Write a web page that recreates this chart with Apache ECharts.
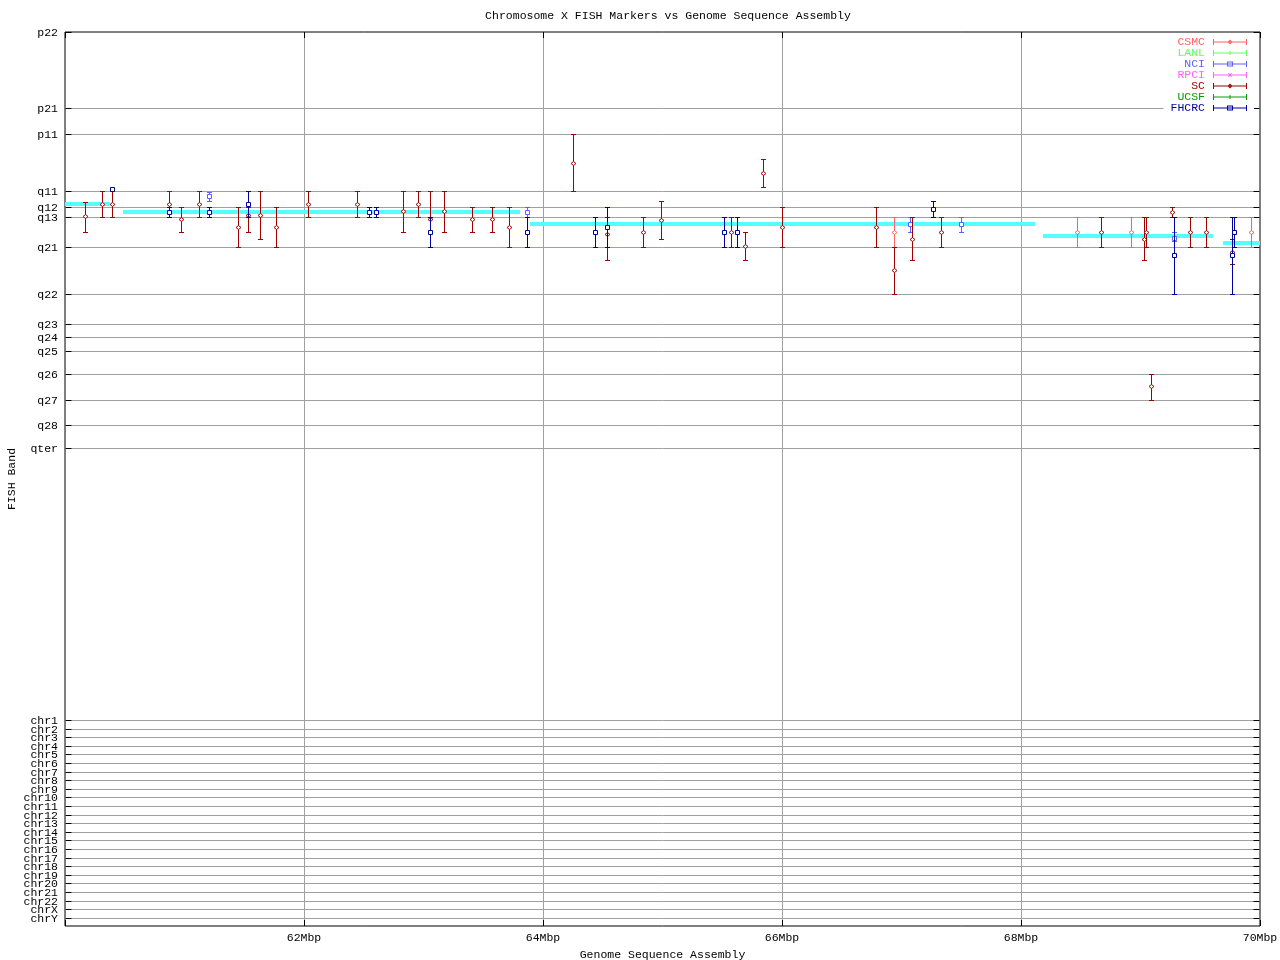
<!DOCTYPE html>
<html>
<head>
<meta charset="utf-8">
<script src="https://cdn.jsdelivr.net/npm/echarts@6/dist/echarts.min.js"></script>
<style>html,body{margin:0;padding:0;background:#fff}#c{width:1280px;height:960px}</style>
</head>
<body>
<div id="c"></div>
<script>
// ---- Data ----
const xTicks = [60, 62, 64, 66, 68, 70];              // Mbp
const bandNames = ['p22','p21','p11','q11','q12','q13','q21','q22','q23','q24','q25','q26','q27','q28','qter',
  'chr1','chr2','chr3','chr4','chr5','chr6','chr7','chr8','chr9','chr10','chr11','chr12','chr13','chr14',
  'chr15','chr16','chr17','chr18','chr19','chr20','chr21','chr22','chrX','chrY'];
const bandPos = [0,76,102,159,175,185,215,262,292,305,319,341.5,367.5,393,416,
  688,696.6,705.2,713.8,722.4,731,739.6,748.2,756.8,765.4,774,782.6,791.2,799.8,
  808.4,817,825.6,834.2,842.8,851.4,860,868.6,877.2,885.8];
const bandMax = 894;

// sequence assembly segments: start Mbp, end Mbp, band position
const asmStart = [60.0, 60.485, 63.891, 68.184, 69.69];
const asmEnd   = [60.377, 63.808, 68.117, 69.607, 70.0];
const asmBand  = [172, 180, 191.5, 203.7, 210.7];

// markers: [Mbp, band centre, band low, band high]
const CSMC = [[66.940,200.3,185,215],[68.471,200.3,185,215],[68.923,200.3,185,215],[69.927,200.3,185,215]];
const LANL = [];
const NCI = [[61.208,164,159.7,168.7],[63.869,180.3,175,185],[67.071,192,185,200.3],[67.500,192,185,200.3],[69.283,206,200.3,209]];
const RPCI = [];
const SC = [
  [60.167,184,169.7,200.3],[60.312,172.3,159,185],[60.396,172.3,159,185],[60.873,172.3,159,185],
  [60.973,187.3,175,200.3],[61.124,172.3,159,185],[61.445,195.3,175,215],[61.534,183,175,200.3],
  [61.634,183,159,207.3],[61.768,195.3,175,215],[62.036,172.3,159,185],[62.446,172.3,159,185],
  [62.831,179.3,159,200.3],[62.956,172.3,159,185],[63.057,187,159,200.3],[63.174,179.3,159,200.3],
  [63.408,187,175,200.3],[63.576,187,175,200.3],[63.718,195.3,175,215],[64.254,131.3,102,159],
  [64.538,202.3,185,228.3],[64.839,200.3,185,215],[64.990,188,169,207.3],[65.576,200.3,185,215],
  [65.693,214.3,200.3,228.3],[65.843,141.3,127.3,155.3],[66.002,195.3,175,215],[66.789,195.3,175,215],
  [66.940,238.3,215,262],[67.090,207.3,185,228.3],[67.333,200.3,185,215],[68.672,200.3,185,215],
  [69.032,207.3,185,228.3],[69.048,200.3,185,215],[69.090,354.3,341.5,367.5],[69.266,180.3,175,185],
  [69.417,200.3,185,215],[69.551,200.3,185,215],[69.768,220,207.3,232.3]];
const UCSF = [];
const FHCRC = [
  [60.396,157,157,157],[60.873,180.3,175,185],[61.208,180.3,175,185],[61.534,172,159,185],
  [62.546,180.3,175,185],[62.605,180.3,175,185],[63.057,200.3,185,215],[63.869,200.3,185,215],
  [64.438,200.3,185,215],[64.538,195.3,175,215],[65.517,200.3,185,215],[65.626,200.3,185,215],
  [67.266,177.3,169.3,185],[69.283,223.3,185,262],[69.768,223.3,185,262],[69.785,200.3,185,215]];

const providers = [
  {name:'CSMC', data:CSMC, color:'#ff6060', sym:'diamond'},
  {name:'LANL', data:LANL, color:'#60ff60', sym:'tick'},
  {name:'NCI', data:NCI, color:'#6060ff', sym:'square'},
  {name:'RPCI', data:RPCI, color:'#ff60ff', sym:'cross'},
  {name:'SC', data:SC, color:'#a00000', sym:'diamond'},
  {name:'UCSF', data:UCSF, color:'#00a000', sym:'tick'},
  {name:'FHCRC', data:FHCRC, color:'#0000a0', sym:'square'}
];

// ---- Chart ----
const FONT = '"Liberation Mono", "DejaVu Sans Mono", monospace';
const FS = 11.5;
const chart = echarts.init(document.getElementById('c'), null, {renderer:'canvas'});

function bandRender(params, api) {
  const cs = params.coordSys;
  const p = api.coord([api.value(0), api.value(1)]);
  const y = Math.round(p[1]) + 0.5;
  const x0 = cs.x + 0.5, x1 = cs.x + cs.width - 0.5;
  const ch = [];
  const pos = api.value(1);
  if (pos > 0 && pos < bandMax) {
    ch.push({type:'line', shape:{x1:x0, y1:y, x2:x1, y2:y}, style:{stroke:'#a0a0a0', lineWidth:1}});
  }
  ch.push({type:'line', shape:{x1:x0, y1:y, x2:x0+6, y2:y}, style:{stroke:'#000', lineWidth:1}});
  ch.push({type:'line', shape:{x1:x1-6, y1:y, x2:x1, y2:y}, style:{stroke:'#000', lineWidth:1}});
  ch.push({type:'text', style:{text: bandNames[params.dataIndex], x:cs.x-7, y:y, align:'right', verticalAlign:'middle',
    font: FS + 'px ' + FONT, fill:'#000'}});
  return {type:'group', children:ch};
}

function xTickRender(params, api) {
  const cs = params.coordSys;
  const p = api.coord([api.value(0), 0]);
  const x = Math.round(p[0]) + 0.5;
  const yt = cs.y, yb = cs.y + cs.height;
  return {type:'group', children:[
    {type:'line', shape:{x1:x, y1:yt, x2:x, y2:yt+6}, style:{stroke:'#000', lineWidth:1}},
    {type:'line', shape:{x1:x, y1:yb-6, x2:x, y2:yb}, style:{stroke:'#000', lineWidth:1}}
  ]};
}

function asmRender(params, api) {
  const a = api.coord([api.value(0), api.value(2)]);
  const b = api.coord([api.value(1), api.value(2)]);
  const y = Math.round(a[1]);
  return {type:'line', shape:{x1:a[0], y1:y, x2:b[0], y2:y}, style:{stroke:'#55ffff', lineWidth:4}};
}

function barRender(sym, color) {
  return function(params, api) {
    const x = api.value(0);
    const pc = api.coord([x, api.value(1)]);
    const pl = api.coord([x, api.value(2)]);
    const ph = api.coord([x, api.value(3)]);
    const cx = Math.round(pc[0]) + 0.5, cy = Math.round(pc[1]) + 0.5;
    const yl = Math.round(pl[1]) + 0.5, yh = Math.round(ph[1]) + 0.5;
    const st = {stroke: color, lineWidth: 1};
    const ch = [];
    if (Math.abs(yh - yl) > 0.5) {
      ch.push({type:'line', shape:{x1:cx, y1:yl, x2:cx, y2:yh}, style:st});
      ch.push({type:'line', shape:{x1:cx-2.5, y1:yl, x2:cx+2.5, y2:yl}, style:st});
      ch.push({type:'line', shape:{x1:cx-2.5, y1:yh, x2:cx+2.5, y2:yh}, style:st});
    }
    if (sym === 'diamond') {
      ch.push({type:'polygon', shape:{points:[[cx-2.5,cy],[cx,cy-2],[cx+2.5,cy],[cx,cy+2]]},
        style:{stroke:color, fill:'#fff', lineWidth:1}});
    } else if (sym === 'square') {
      ch.push({type:'rect', shape:{x:cx-2, y:cy-2, width:4, height:4}, style:{stroke:color, fill:'#fff', lineWidth:1}});
    } else if (sym === 'cross') {
      ch.push({type:'line', shape:{x1:cx-2, y1:cy-2, x2:cx+2, y2:cy+2}, style:st});
      ch.push({type:'line', shape:{x1:cx-2, y1:cy+2, x2:cx+2, y2:cy-2}, style:st});
    }
    return {type:'group', children:ch};
  };
}

const barPath = 'M0 2.5H34V3.5H0Z M0 0H1V6H0Z M33 0H34V6H33Z';
const iconSym = {
  diamond: ' M14.5 3L17 0.5L19.5 3L17 5.5Z M16 3L17 4L18 3L17 2Z',
  square: ' M14 0.5H20V5.5H14Z M15 1.5V2.5H19V1.5Z M15 3.5V4.5H19V3.5Z',
  tick: ' M16.5 1H17.5V5H16.5Z',
  cross: ' M15 1H16L17 2.3L18 1H19L17.6 3L19 5H18L17 3.7L16 5H15L16.4 3Z'
};

const series = [
  {type:'custom', name:'bands', silent:true, z:1, renderItem: bandRender,
   data: bandPos.map(p => [60, p]), encode:{x:0, y:1}},
  {type:'custom', name:'xticks', silent:true, z:1, renderItem: xTickRender,
   data: xTicks.map(v => [v, 0]), encode:{x:0, y:1}},
  {type:'custom', name:'assembly', silent:true, z:2, renderItem: asmRender,
   data: asmStart.map((s,i) => [s, asmEnd[i], asmBand[i]]), encode:{x:[0,1], y:2}}
];
providers.forEach(p => {
  series.push({type:'custom', name:p.name, silent:true, z:3, renderItem: barRender(p.sym, p.color),
    itemStyle:{color:p.color}, data:p.data, encode:{x:0, y:1}});
});

const option = {
  animation: false,
  backgroundColor: '#fff',
  title: {text:'Chromosome X FISH Markers vs Genome Sequence Assembly', left:663, top:5, textAlign:'center',
    textStyle:{fontFamily:FONT, fontSize:FS, fontWeight:'normal', color:'#000'}},
  legend: {
    orient:'vertical', right:26, top:36, itemWidth:34, itemHeight:6, itemGap:-1, align:'right',
    backgroundColor:'#fff', padding:[0,7,1,7], selectedMode:false,
    textStyle:{fontFamily:FONT, fontSize:FS, lineHeight:11, padding:[0,3,0,0]},
    data: providers.map(p => ({name:p.name, icon:'path://' + barPath + iconSym[p.sym],
      itemStyle:{color:p.color}, textStyle:{color:p.color}}))
  },
  grid: {left:65, right:20, top:32, bottom:34, show:true, borderColor:'#000', borderWidth:1,
    backgroundColor:'transparent', containLabel:false, outerBoundsMode:'none'},
  xAxis: {type:'value', min:xTicks[0], max:xTicks[xTicks.length-1], interval:2, position:'bottom',
     axisLine:{show:false}, axisTick:{show:false},
     splitLine:{show:true, showMinLine:false, showMaxLine:false, lineStyle:{color:'#a0a0a0', width:1}},
     axisLabel:{margin:6, fontFamily:FONT, fontSize:FS, color:'#000',
       formatter: v => (xTicks.indexOf(v) > 0 ? v + 'Mbp' : '')},
     name:'Genome Sequence Assembly', nameLocation:'middle', nameGap:21,
     nameTextStyle:{fontFamily:FONT, fontSize:FS, color:'#000'}},
  yAxis: {type:'value', min:0, max:bandMax, inverse:true,
    axisLine:{show:false}, axisTick:{show:false}, axisLabel:{show:false}, splitLine:{show:false},
    name:'FISH Band', nameLocation:'middle', nameRotate:90, nameGap:47,
    nameTextStyle:{fontFamily:FONT, fontSize:FS, color:'#000'}},
  series: series
};
chart.setOption(option);
</script>
</body>
</html>
